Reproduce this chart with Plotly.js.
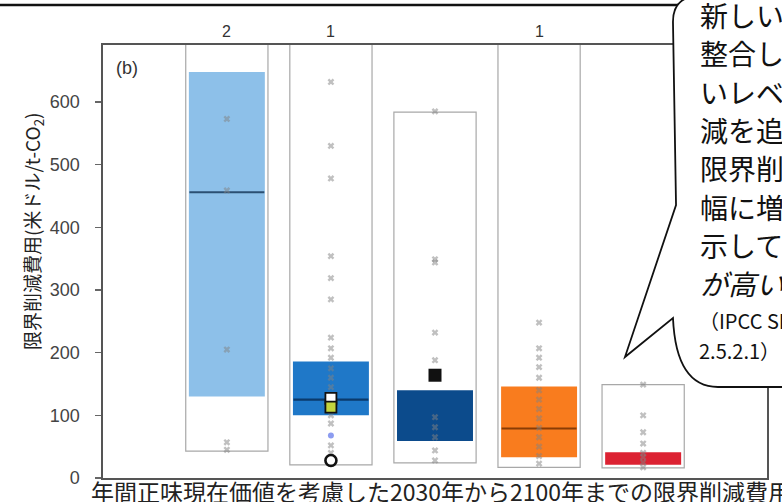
<!DOCTYPE html>
<html>
<head>
<meta charset="utf-8">
<script src="https://cdn.plot.ly/plotly-3.0.1.min.js"></script>
<style>html,body{margin:0;padding:0;background:#fff;overflow:hidden}#chart{width:782px;height:502px}</style>
</head>
<body>
<div id="chart"></div>
<script>
// ---- data ----
var catPos   = [0, 1, 2, 3, 4];
var aboveCnt = ['2', '1', '', '1', ''];
var rangeMin = [43, 21, 24, 17, 16];
var rangeMax = [1000, 800, 584, 900, 149];
var q1       = [130, 100, 59, 33, 21];
var q3       = [648, 186, 140, 146, 41];
var medians  = [456, 125, null, 79, null];
var boxColors = ['#8dc0e9', '#1f78c8', '#0c4b8c', '#f97c1e', '#dc2232'];
var medColors = ['#2b4f72', '#0b3a6c', '#08305a', '#8a3c05', '#8a1020'];
var pts = [
  [573, 459, 205, 57, 45],
  [632, 530, 478, 354, 319, 285, 224, 207, 192, 175, 160, 145, 100, 87, 52, 40],
  [585, 349, 344, 232, 188, 97, 81, 65, 44, 28],
  [248, 207, 192, 177, 160, 140, 125, 110, 95, 80, 65, 50, 35, 23],
  [149, 100, 73, 55, 40, 33, 25, 17]
];
// highlighted scenarios
var whiteSq  = {cat: 1, y: 127};
var yellowSq = {cat: 1, y: 113};
var blueDot  = {cat: 1, y: 68};
var openCirc = {cat: 1, y: 28};
var blackSq  = {cat: 2, y: 164};

var calloutLines = ['新しい', '整合し', 'いレベ', '減を追', '限界削', '幅に増', '示して', '<i>が高い</i>'];
var calloutRefs  = ['（IPCC SR', '2.5.2.1）'];

// ---- layout geometry ----
var W = 782, H = 502, ML = 103, MR = 15, MT = 45, MB = 24;
var PW = W - ML - MR, PH = H - MT - MB;
function px(x) { return (x - ML) / PW; }
function py(y) { return (H - MB - y) / PH; }
function P(x, y) { return px(x).toFixed(4) + ',' + py(y).toFixed(4); }

var rangeW = 0.79, boxW = 0.73, medW = 0.72;

var traces = [];
traces.push({
  type: 'bar', x: catPos, base: rangeMin,
  y: rangeMax.map(function (v, i) { return v - rangeMin[i]; }),
  width: catPos.map(function () { return rangeW; }),
  marker: {color: 'rgba(0,0,0,0)', line: {color: '#a8a8a8', width: 1.2}},
  hoverinfo: 'skip', showlegend: false
});
traces.push({
  type: 'bar', x: catPos, base: q1,
  y: q3.map(function (v, i) { return v - q1[i]; }),
  width: catPos.map(function () { return boxW; }),
  marker: {color: boxColors, line: {width: 0}},
  hoverinfo: 'skip', showlegend: false
});
catPos.forEach(function (c, i) {
  if (medians[i] === null) return;
  traces.push({
    type: 'scatter', mode: 'lines',
    x: [c - medW / 2, c + medW / 2], y: [medians[i], medians[i]],
    line: {color: medColors[i], width: 2.2}, hoverinfo: 'skip', showlegend: false
  });
});
var px_ = [], py_ = [];
pts.forEach(function (arr, i) { arr.forEach(function (v) { px_.push(catPos[i]); py_.push(v); }); });
traces.push({
  type: 'scatter', mode: 'markers', x: px_, y: py_,
  marker: {symbol: 'x', size: 6, color: 'rgba(130,130,130,0.5)'},
  hoverinfo: 'skip', showlegend: false
});
function special(o, sym, size, fill, lineC, lineW) {
  traces.push({
    type: 'scatter', mode: 'markers', x: [catPos[o.cat]], y: [o.y],
    marker: {symbol: sym, size: size, color: fill, line: {color: lineC, width: lineW}},
    hoverinfo: 'skip', showlegend: false
  });
}
special(blueDot, 'circle', 6, '#8c9cf0', '#8c9cf0', 0);
special(whiteSq, 'square', 11, '#ffffff', '#111', 1.8);
special(yellowSq, 'square', 11, '#c3d43e', '#111', 1.8);
special(openCirc, 'circle-open', 11, '#111', '#111', 2.6);
special(blackSq, 'square', 13, '#111', '#111', 0);

var ann = [];
catPos.forEach(function (c, i) {
  if (!aboveCnt[i]) return;
  ann.push({xref: 'x', yref: 'paper', x: c, y: py(31), xanchor: 'center', yanchor: 'middle',
            text: aboveCnt[i], showarrow: false,
            font: {family: 'Liberation Sans, Arial', size: 16, color: '#333'}});
});
ann.push({xref: 'paper', yref: 'paper', x: px(114), y: py(68), xanchor: 'left', yanchor: 'middle',
          text: '(b)', showarrow: false,
          font: {family: 'Liberation Sans, Arial', size: 18, color: '#333'}});
ann.push({xref: 'paper', yref: 'paper', x: px(33), y: py(231), xanchor: 'center', yanchor: 'middle',
          text: '限界削減費用(米ドル/t-CO<sub>2</sub>)',
          textangle: -90, showarrow: false,
          font: {family: 'Noto Sans CJK JP', size: 19, color: '#222'}});
ann.push({xref: 'paper', yref: 'paper', x: px(89), y: py(491), xanchor: 'left', yanchor: 'middle',
          text: '年間正味現在価値を考慮した2030年から2100年までの限界削減費用', showarrow: false,
          font: {family: 'Noto Sans CJK JP', size: 23, color: '#222'}});
calloutLines.forEach(function (t, i) {
  ann.push({xref: 'paper', yref: 'paper', x: px(698), y: py(15 + i * 38.3), xanchor: 'left', yanchor: 'middle',
            text: t, showarrow: false, font: {family: 'Noto Sans CJK JP', size: 28, color: '#111'}});
});
calloutRefs.forEach(function (t, i) {
  ann.push({xref: 'paper', yref: 'paper', x: px(697), y: py(320 + i * 30), xanchor: 'left', yanchor: 'middle',
            text: t, showarrow: false, font: {family: 'Noto Sans CJK JP', size: 20, color: '#111'}});
});

var bubble = 'M ' + P(700, -4) + ' Q ' + P(673, -4) + ' ' + P(673, 22) +
  ' L ' + P(676, 205) + ' L ' + P(625, 357) + ' L ' + P(673, 318) +
  ' Q ' + P(676, 387) + ' ' + P(718, 387) + ' L ' + P(800, 387) + ' L ' + P(800, -4) + ' Z';

var layout = {
  width: W, height: H,
  margin: {l: ML, r: MR, t: MT, b: MB, pad: 0},
  paper_bgcolor: '#fff', plot_bgcolor: '#fff',
  barmode: 'overlay',
  showlegend: false,
  xaxis: {range: [-1.19, 5.19], showticklabels: false, ticks: '', showgrid: false, zeroline: false,
          showline: true, linecolor: '#555', linewidth: 1.6, mirror: true, fixedrange: true},
  yaxis: {range: [0, 691], tickvals: [0, 100, 200, 300, 400, 500, 600], ticks: 'outside', ticklen: 6,
          tickcolor: '#666', tickwidth: 1.2, showgrid: false, zeroline: false,
          showline: true, linecolor: '#555', linewidth: 1.6, mirror: true, ticklabelstandoff: 12,
          tickfont: {family: 'Liberation Sans, Arial', size: 18, color: '#444'}, fixedrange: true},
  shapes: [
    {type: 'line', xref: 'paper', yref: 'paper', x0: px(-5), x1: px(680), y0: py(5), y1: py(5),
     line: {color: '#111', width: 2.5}, layer: 'above'},
    {type: 'path', xref: 'paper', yref: 'paper', path: bubble, fillcolor: '#fff',
     line: {color: '#111', width: 1.8}, layer: 'above'}
  ],
  annotations: ann
};
Plotly.newPlot('chart', traces, layout, {displayModeBar: false, staticPlot: true});
</script>
</body>
</html>
